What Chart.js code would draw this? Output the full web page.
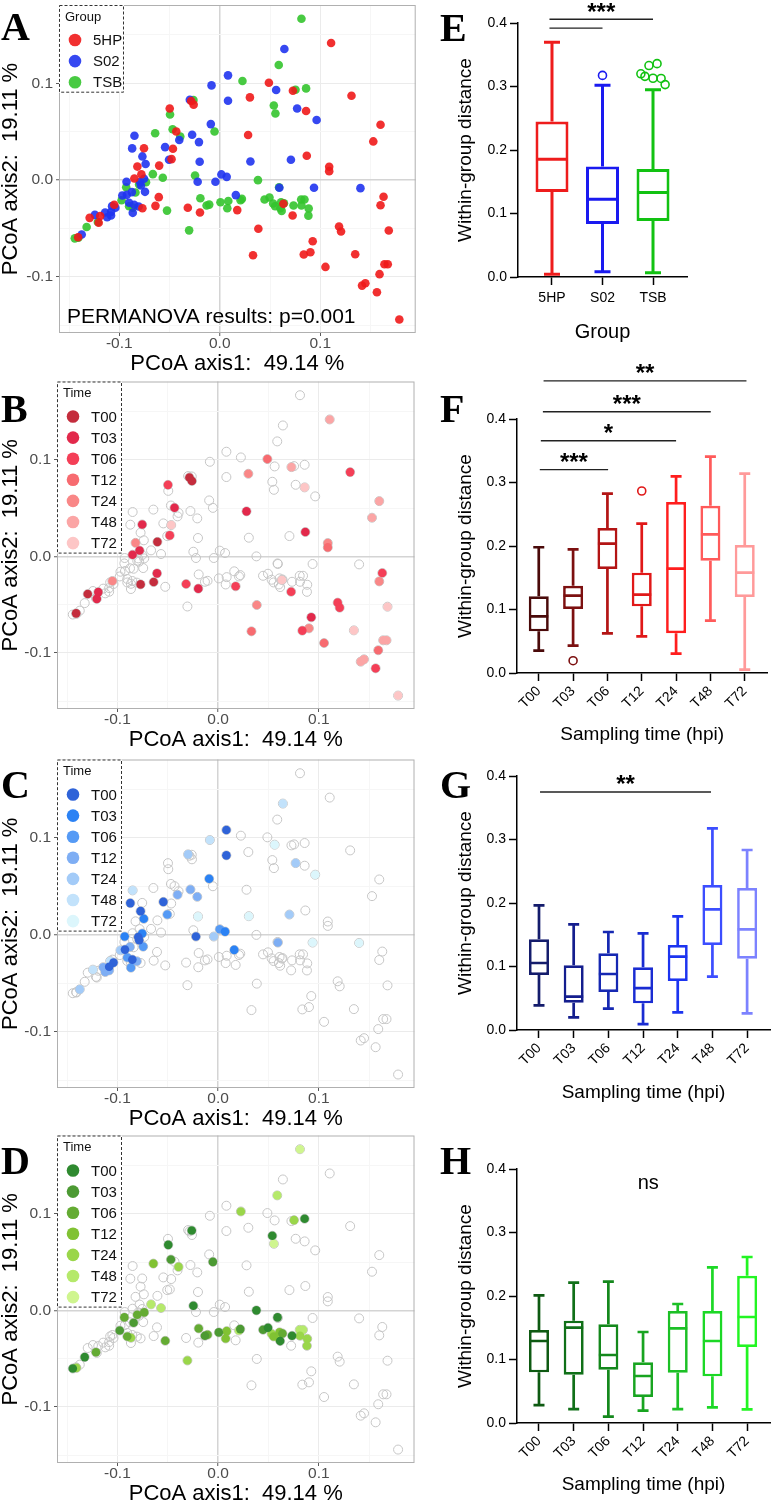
<!DOCTYPE html>
<html lang="en">
<head>
<meta charset="UTF-8">
<title>PCoA and within-group distance</title>
<script src="https://cdn.jsdelivr.net/npm/chart.js"></script>
<style>
    body {
        margin: 0;
        background: #fff;
        width: 773px;
        height: 1503px;
        position: relative;
        overflow: hidden;
    }
    canvas { position: absolute; }
    .tag {
        position: absolute;
        z-index: 2;
        font-family: "Liberation Serif", "Times New Roman", serif;
        font-weight: bold;
        font-size: 40px;
        line-height: 40px;
    }
</style>
</head>
<body>
<canvas id="pA" width="420" height="378" style="left:0;top:0"></canvas>
<canvas id="pB" width="420" height="378" style="left:0;top:376px"></canvas>
<canvas id="pC" width="420" height="379" style="left:0;top:754px"></canvas>
<canvas id="pD" width="420" height="378" style="left:0;top:1130px"></canvas>
<canvas id="pE" width="353" height="345" style="left:420px;top:0"></canvas>
<canvas id="pF" width="353" height="405" style="left:420px;top:345px"></canvas>
<canvas id="pG" width="353" height="358" style="left:420px;top:750px"></canvas>
<canvas id="pH" width="353" height="395" style="left:420px;top:1108px"></canvas>

<div class="tag" style="left:1px;top:7px">A</div>
<div class="tag" style="left:1px;top:389px">B</div>
<div class="tag" style="left:1px;top:765px">C</div>
<div class="tag" style="left:1px;top:1141px">D</div>
<div class="tag" style="left:440px;top:8px">E</div>
<div class="tag" style="left:440px;top:389px">F</div>
<div class="tag" style="left:440px;top:765px">G</div>
<div class="tag" style="left:440px;top:1141px">H</div>

<script>
    // ---- data ----
    const groups = ['5HP', 'S02', 'TSB'];
    const times = ['T00', 'T03', 'T06', 'T12', 'T24', 'T48', 'T72'];

    // PCoA scores: [axis1, axis2, time index]
    const pts5HP = [
        [-0.141, -0.059, 0], [-0.1295, -0.039, 0], [-0.119, -0.037, 1], [-0.1205, -0.044, 1],
        [-0.105, -0.0255, 4], [-0.085, 0.0017, 1], [-0.082, 0.014, 4], [-0.078, 0.006, 1],
        [-0.0754, 0.033, 1], [-0.077, -0.029, 0], [-0.064, -0.0266, 0], [-0.0607, -0.0176, 1],
        [-0.0603, 0.015, 0], [-0.0498, 0.074, 2], [-0.048, 0.0217, 2], [-0.0466, 0.0324, 6],
        [-0.0433, 0.0503, 1], [-0.0285, 0.0817, 0], [-0.026, 0.078, 0], [-0.0318, -0.0286, 2],
        [-0.0197, -0.0334, 1], [0.0174, -0.031, 2], [0.0282, 0.0466, 1], [0.030, 0.0855, 4],
        [0.0384, -0.0503, 4], [0.0331, -0.0776, 3], [0.0489, 0.1007, 3], [0.0725, -0.0366, 2],
        [0.0728, 0.0924, 5], [0.0859, 0.0714, 6], [0.0866, 0.0252, 1], [0.0925, -0.0631, 1],
        [0.0836, -0.0769, 2], [0.0902, -0.0745, 4], [0.0633, -0.0245, 6], [0.1052, -0.0897, 3],
        [0.1089, 0.0138, 4], [0.1089, 0.0093, 3], [0.1311, 0.0872, 2], [0.1187, -0.0479, 2],
        [0.1207, -0.0531, 2], [0.1348, -0.0766, 6], [0.1416, -0.109, 5], [0.1449, -0.1066, 5],
        [0.1528, 0.040, 5], [0.16, 0.0572, 5], [0.163, -0.0172, 2], [0.16, -0.0259, 4],
        [0.1682, -0.0521, 6], [0.1639, -0.0869, 5], [0.1672, -0.0869, 5], [0.159, -0.0972, 3],
        [0.1564, -0.1159, 2], [0.1787, -0.1441, 6], [0.1108, 0.1417, 5]
    ];
    const ptsS02 = [
        [0.0082, 0.1083, 0], [0.0082, 0.0821, 0], [-0.0082, 0.0979, 5], [-0.0298, 0.0831, 4],
        [-0.0089, 0.0579, 1], [-0.0275, 0.0469, 3], [-0.0207, 0.0393, 3], [-0.0403, 0.0414, 3],
        [-0.0544, 0.0341, 0], [-0.0505, 0.021, 2], [-0.02, 0.019, 6], [-0.022, -0.0017, 0],
        [-0.0043, -0.0017, 4], [0.0016, 0.0059, 2], [0.0069, 0.0034, 1], [0.016, -0.0155, 1],
        [-0.0849, 0.0459, 5], [-0.0872, 0.0328, 0], [-0.077, 0.0245, 0], [-0.0738, 0.0166, 1],
        [-0.0928, -0.0017, 1], [-0.0754, 0.0014, 1], [-0.0793, -0.0021, 0], [-0.0784, -0.0055, 0],
        [-0.0744, -0.0121, 2], [-0.0925, -0.0152, 0], [-0.097, -0.0159, 4], [-0.0875, -0.0124, 3],
        [-0.0902, -0.0234, 2], [-0.0852, -0.0255, 0], [-0.0807, -0.0272, 3], [-0.0866, -0.0338, 2],
        [-0.1039, -0.0286, 0], [-0.1082, -0.0328, 0], [-0.1072, -0.0269, 5], [-0.1141, -0.0334, 3],
        [-0.1121, -0.0383, 3], [-0.1082, -0.0366, 3], [-0.1243, -0.0359, 5], [-0.1374, -0.0562, 4],
        [0.0643, 0.1355, 5], [0.0561, 0.0931, 6], [0.077, 0.0741, 4], [0.0964, 0.0621, 6],
        [0.0708, 0.021, 4], [0.0305, 0.0193, 6], [0.0593, -0.0079, 3], [0.0938, -0.0079, 6],
        [0.14, -0.0083, 6]
    ];
    const ptsTSB = [
        [0.0813, 0.1668, 6], [0.0587, 0.119, 5], [0.0226, 0.1024, 4], [0.0754, 0.0934, 4],
        [0.0859, 0.0948, 0], [0.0538, 0.0772, 0], [0.0554, 0.0689, 6], [-0.0262, 0.0827, 0],
        [-0.0495, 0.0678, 0], [-0.0469, 0.0526, 1], [-0.0393, 0.045, 4], [-0.0643, 0.0484, 3],
        [-0.0052, 0.0502, 1], [-0.0246, 0.0048, 0], [0.038, 0.0, 0], [0.059, -0.0073, 0],
        [-0.0666, 0.0062, 5], [-0.0567, 0.0024, 5], [-0.0734, -0.0021, 2], [-0.0803, -0.0045, 2],
        [-0.0931, -0.0073, 2], [-0.0839, -0.0128, 1], [-0.0977, -0.0208, 1], [-0.0902, -0.027, 2],
        [-0.0866, -0.0284, 4], [-0.0525, -0.0315, 2], [-0.1213, -0.0433, 2], [-0.1325, -0.0484, 0],
        [-0.1443, -0.0602, 0], [-0.1407, -0.0595, 4], [-0.0305, -0.0519, 4], [-0.0193, -0.0187, 2],
        [-0.0131, -0.0263, 1], [-0.0105, -0.0253, 2], [0.0007, -0.0228, 1], [0.0085, -0.0215, 3],
        [0.0075, -0.0291, 3], [0.022, -0.0194, 1], [0.0207, -0.0208, 5], [0.0446, -0.0201, 1],
        [0.0495, -0.018, 0], [0.0531, -0.0242, 4], [0.0551, -0.027, 3], [0.061, -0.0228, 3],
        [0.0639, -0.0239, 2], [0.0616, -0.0318, 0], [0.0603, -0.0291, 4], [0.0734, -0.0263, 0],
        [0.081, -0.0201, 5], [0.0843, -0.0201, 5], [0.0813, -0.0263, 4], [0.0885, -0.0294, 4],
        [0.0882, -0.0367, 4]
    ];

    // within-group distance boxes: [min, q1, median, q3, max]
    const statsE = [
        [0.0042, 0.134, 0.1855, 0.245, 0.3695],
        [0.0084, 0.0836, 0.1225, 0.174, 0.302],
        [0.0068, 0.0883, 0.133, 0.17, 0.295]
    ];
    const outliersE = [[], [0.3175], [0.320, 0.316, 0.333, 0.313, 0.336, 0.3127, 0.303]];
    const statsF = [
        [0.0352, 0.0656, 0.0892, 0.1207, 0.198],
        [0.043, 0.1008, 0.1218, 0.1375, 0.1948],
        [0.0625, 0.1638, 0.2037, 0.2283, 0.2824],
        [0.0577, 0.105, 0.1234, 0.158, 0.2352],
        [0.0304, 0.0625, 0.1643, 0.2693, 0.3097],
        [0.0824, 0.1769, 0.2184, 0.2635, 0.3407],
        [0.0052, 0.1197, 0.158, 0.2016, 0.3139]
    ];
    const outliersF = [[], [0.0194], [], [0.2866], [], [], []];
    const statsG = [
        [0.0388, 0.0866, 0.1055, 0.1428, 0.1963],
        [0.020, 0.043, 0.0525, 0.1018, 0.1664],
        [0.0336, 0.0598, 0.0882, 0.1207, 0.1543],
        [0.0094, 0.042, 0.0661, 0.0987, 0.1522],
        [0.0278, 0.0772, 0.1155, 0.1339, 0.179],
        [0.084, 0.1339, 0.19, 0.2283, 0.3176],
        [0.0262, 0.1123, 0.1585, 0.2236, 0.2835]
    ];
    const statsH = [
        [0.0283, 0.0798, 0.1291, 0.1465, 0.201],
        [0.022, 0.0761, 0.1501, 0.1612, 0.221],
        [0.010, 0.084, 0.1071, 0.1554, 0.2226],
        [0.0194, 0.0409, 0.074, 0.0955, 0.1433],
        [0.022, 0.0793, 0.1491, 0.1764, 0.1874],
        [0.0247, 0.0735, 0.1291, 0.1764, 0.2451],
        [0.0215, 0.1197, 0.1669, 0.232, 0.2614]
    ];
    const noOutliers = [[], [], [], [], [], [], []];

    // comparison bars: [from, to, height, label]
    const sigE = [[0.95, 3, 0.406, '***'], [0.95, 2, 0.392, '']];
    const sigF = [[1.14, 7.05, 0.46, '**'], [1.12, 6.01, 0.4115, '***'], [1.06, 5, 0.3658, '*'], [1.03, 3.02, 0.3202, '***']];
    const sigG = [[1.03, 5.96, 0.3748, '**']];
    const sigH = [[1.3, 7, 0.356, 'ns']];

    // ---- colours ----
    const groupColors = ['rgba(240,26,26,0.9)', 'rgba(32,52,240,0.9)', 'rgba(52,196,46,0.9)'];
    const redTimes = ['#c42d3d', '#e2294b', '#f43f57', '#f76b70', '#f98787', '#fba5a5', '#fdc6c6'];
    const blueTimes = ['#2f63d8', '#2b82f4', '#559af5', '#7eaef4', '#a3cbf8', '#c2e2fb', '#dcf6fc'];
    const greenTimes = ['#2f8a30', '#4c9a33', '#64ab33', '#81c233', '#9ad64a', '#b5e96b', '#cff58f'];
    const colE = ['#ee1c1c', '#1a1af0', '#12c212'];
    const colF = ['#4a0a0a', '#7c1010', '#b31414', '#e01818', '#ff1e1e', '#ff5a5a', '#ff9a9a'];
    const colG = ['#141c6c', '#141e8e', '#1628b2', '#1a2cd2', '#1c34f0', '#3c4eff', '#7c82ff'];
    const colH = ['#0e5a12', '#107018', '#14881c', '#18a420', '#1cc026', '#1cd826', '#22f522'];

    Chart.defaults.font.family = '"Liberation Sans", Arial, sans-serif';

    const near = (v, step) => Math.abs(v / step - Math.round(v / step)) < 1e-6;
    const noPad = s => { s.paddingTop = 0; s.paddingBottom = 0; s.paddingLeft = 0; s.paddingRight = 0; };
    const keepTicks = step => s => { s.ticks = s.ticks.filter(t => near(t.value, step)); };

    // ---- PCoA panels ----
    const xLim = [-0.16, 0.195];
    const yLim = [-0.158, 0.181];

    function pcoaAxis(axis, size) {
        const isX = axis === 'x';
        return {
            type: 'linear',
            min: isX ? xLim[0] : yLim[0],
            max: isX ? xLim[1] : yLim[1],
            afterBuildTicks: keepTicks(0.05),
            afterFit: s => { if (isX) s.height = size; else s.width = size; noPad(s); },
            border: { display: false },
            grid: {
                color: c => Math.abs(c.tick.value) < 1e-9 ? '#d4d4d4' : near(c.tick.value, 0.1) ? '#ebebeb' : '#f6f6f6',
                lineWidth: c => Math.abs(c.tick.value) < 1e-9 ? 1.5 : 1,
                tickColor: c => near(c.tick.value, 0.1) ? '#5a5a5a' : 'rgba(0,0,0,0)',
                tickLength: 3,
                tickWidth: 1
            },
            ticks: {
                stepSize: 0.05,
                includeBounds: false,
                color: '#4d4d4d',
                padding: isX ? 0 : 3,
                font: { size: 15.5, lineHeight: 1 },
                callback: v => near(v, 0.1) ? v.toFixed(1) : ''
            },
            title: {
                display: true,
                text: isX ? 'PCoA axis1:  49.14 %' : 'PCoA axis2:  19.11 %',
                color: '#000',
                font: { size: 22, lineHeight: 1 },
                padding: isX ? { top: 0, bottom: 3 } : { top: 0, bottom: 0 }
            }
        };
    }

    function pcoaDecor(legendTitle, note) {
        return {
            id: 'pcoaDecor',
            afterDatasetsDraw(chart) {
                const { ctx, chartArea: a } = chart;
                ctx.save();
                ctx.strokeStyle = '#b0b0b0';
                ctx.lineWidth = 1;
                ctx.strokeRect(a.left + 0.5, a.top + 0.5, a.right - a.left - 1, a.bottom - a.top - 1);

                if (note) {
                    ctx.fillStyle = '#000';
                    ctx.font = '21px "Liberation Sans", Arial, sans-serif';
                    ctx.textBaseline = 'middle';
                    ctx.fillText(note, a.left + 8, a.bottom - 16);
                }

                const items = chart.data.datasets.filter(d => d.label);
                const rowH = 21.1;
                const w = 65;
                const h = 35 + (items.length - 1) * rowH + 10.5;
                ctx.fillStyle = '#fff';
                ctx.fillRect(a.left, a.top, w, h);
                ctx.setLineDash([3, 2]);
                ctx.strokeStyle = '#333';
                ctx.strokeRect(a.left + 0.5, a.top + 0.5, w - 1, h - 1);
                ctx.setLineDash([]);
                ctx.fillStyle = '#111';
                ctx.textBaseline = 'middle';
                ctx.font = '13px "Liberation Sans", Arial, sans-serif';
                ctx.fillText(legendTitle, a.left + 6, a.top + 12);
                ctx.font = '15px "Liberation Sans", Arial, sans-serif';
                items.forEach((d, i) => {
                    const cy = a.top + 35 + i * rowH;
                    ctx.beginPath();
                    ctx.arc(a.left + 16, cy, 6.3, 0, Math.PI * 2);
                    ctx.fillStyle = d.pointBackgroundColor;
                    ctx.fill();
                    ctx.fillStyle = '#111';
                    ctx.fillText(d.label, a.left + 34, cy + 1);
                });
                ctx.restore();
            }
        };
    }

    function pcoa(id, left, legendTitle, datasets, note) {
        new Chart(document.getElementById(id), {
            type: 'scatter',
            data: { datasets: datasets },
            options: {
                responsive: false,
                animation: false,
                events: [],
                layout: { padding: { top: 5, right: 2, left: 0, bottom: 0 } },
                plugins: { legend: { display: false }, tooltip: { enabled: false } },
                scales: { x: pcoaAxis('x', 45), y: pcoaAxis('y', left) }
            },
            plugins: [pcoaDecor(legendTitle, note)]
        });
    }

    const xy = p => ({ x: p[0], y: p[1] });
    const allPts = pts5HP.concat(ptsS02, ptsTSB).map(xy);

    function timeSets(pts, palette) {
        const sets = times.map((t, i) => ({
            label: t,
            data: pts.filter(p => p[2] === i).map(xy),
            pointRadius: 4.3,
            pointBorderWidth: 0,
            pointBackgroundColor: palette[i]
        }));
        sets.push({
            data: allPts,
            pointRadius: 4.5,
            pointBorderWidth: 1,
            pointBorderColor: '#c6c6c6',
            pointBackgroundColor: 'rgba(0,0,0,0)',
            order: 1
        });
        return sets;
    }

    const groupSets = [pts5HP, ptsS02, ptsTSB].map((pts, g) => ({
        label: groups[g],
        data: pts.map(xy),
        pointRadius: 4.3,
        pointBorderWidth: 0,
        pointBackgroundColor: groupColors[g]
    }));

    pcoa('pA', 59, 'Group', groupSets, 'PERMANOVA results: p=0.001');
    pcoa('pB', 57, 'Time', timeSets(pts5HP, redTimes));
    pcoa('pC', 57, 'Time', timeSets(ptsS02, blueTimes));
    pcoa('pD', 57, 'Time', timeSets(ptsTSB, greenTimes));

    // ---- box plot panels ----
    function boxExtras(stats, colors, sig, cap, lw) {
        return {
            id: 'boxExtras',
            afterDatasetsDraw(chart) {
                const { ctx, scales: { x, y } } = chart;
                const bars = chart.getDatasetMeta(0).data;
                ctx.save();
                ctx.lineWidth = lw;
                stats.forEach((s, i) => {
                    const cx = x.getPixelForValue(i + 1);
                    const [mn, q1, md, q3, mx] = s.map(v => y.getPixelForValue(v));
                    const half = bars[i].width / 2 - 0.5;
                    ctx.strokeStyle = colors[i];
                    ctx.beginPath();
                    ctx.moveTo(cx, q3); ctx.lineTo(cx, mx);
                    ctx.moveTo(cx, q1); ctx.lineTo(cx, mn);
                    ctx.moveTo(cx - cap / 2, mx); ctx.lineTo(cx + cap / 2, mx);
                    ctx.moveTo(cx - cap / 2, mn); ctx.lineTo(cx + cap / 2, mn);
                    ctx.moveTo(cx - half, md); ctx.lineTo(cx + half, md);
                    ctx.stroke();
                });

                ctx.strokeStyle = '#222';
                ctx.fillStyle = '#000';
                ctx.lineWidth = 1.4;
                ctx.textAlign = 'center';
                ctx.textBaseline = 'alphabetic';
                sig.forEach(([a, b, v, label]) => {
                    const py = y.getPixelForValue(v);
                    const x1 = x.getPixelForValue(a);
                    const x2 = x.getPixelForValue(b);
                    const cy = py - 13.5;
                    if (label === 'ns') {
                        ctx.font = '20px "Liberation Sans", Arial, sans-serif';
                        ctx.fillText(label, (x1 + x2) / 2, cy + 5.2);
                        return;
                    }
                    ctx.beginPath();
                    ctx.moveTo(x1, py); ctx.lineTo(x2, py);
                    ctx.stroke();
                    if (label) {
                        ctx.font = 'bold 24px "Liberation Sans", Arial, sans-serif';
                        ctx.fillText(label, (x1 + x2) / 2, cy + 0.58 * 24);
                    }
                });
                ctx.restore();
            }
        };
    }

    function boxPanel(id, cfg) {
        const outPts = [];
        const outCols = [];
        cfg.outliers.forEach((list, i) => {
            list.forEach((v, k) => {
                outPts.push({ x: i + 1 + (k - (list.length - 1) / 2) * cfg.dodge, y: v });
                outCols.push(cfg.colors[i]);
            });
        });

        new Chart(document.getElementById(id), {
            type: 'bar',
            data: {
                datasets: [
                    {
                        data: cfg.stats.map((s, i) => ({ x: i + 1, y: [s[1], s[3]] })),
                        backgroundColor: '#fff',
                        borderColor: cfg.colors,
                        borderWidth: cfg.lw,
                        borderSkipped: false,
                        inflateAmount: 0,
                        barThickness: cfg.box,
                        order: 0
                    },
                    {
                        type: 'scatter',
                        data: outPts,
                        pointRadius: 4,
                        pointBorderWidth: 1.6,
                        pointBorderColor: outCols,
                        pointBackgroundColor: 'rgba(0,0,0,0)',
                        order: 1
                    }
                ]
            },
            options: {
                responsive: false,
                animation: false,
                events: [],
                layout: { padding: { top: cfg.top, right: cfg.right, left: 0, bottom: 0 } },
                plugins: { legend: { display: false }, tooltip: { enabled: false } },
                scales: {
                    x: {
                        type: 'linear',
                        min: cfg.xMin,
                        max: cfg.xMax,
                        offset: false,
                        afterBuildTicks: s => { s.ticks = cfg.labels.map((_, i) => ({ value: i + 1 })); },
                        afterFit: s => { s.height = cfg.xHeight; noPad(s); },
                        border: { display: true, color: '#000', width: 1.5 },
                        grid: { drawOnChartArea: false, offset: false, tickLength: 8, tickColor: '#000', tickWidth: 1.5 },
                        ticks: {
                            autoSkip: false,
                            minRotation: cfg.rot,
                            maxRotation: cfg.rot,
                            padding: cfg.rot ? 3 : 6,
                            color: '#000',
                            font: { size: 14, lineHeight: 1 },
                            callback: v => cfg.labels[Math.round(v) - 1]
                        },
                        title: {
                            display: true,
                            text: cfg.xTitle,
                            color: '#000',
                            font: { size: cfg.xTitleSize, lineHeight: 1 },
                            padding: { top: 0, bottom: cfg.xTitlePad }
                        }
                    },
                    y: {
                        min: 0,
                        max: 0.4,
                        afterFit: s => { s.width = cfg.yWidth; noPad(s); },
                        border: { display: true, color: '#000', width: 1.5 },
                        grid: { drawOnChartArea: false, tickLength: 8, tickColor: '#000', tickWidth: 1.5 },
                        ticks: {
                            stepSize: 0.1,
                            padding: 3,
                            color: '#000',
                            font: { size: 14, lineHeight: 1 },
                            callback: v => v.toFixed(1)
                        },
                        title: {
                            display: true,
                            text: 'Within-group distance',
                            color: '#000',
                            font: { size: 19, lineHeight: 1 },
                            padding: { top: 36, bottom: 0 }
                        }
                    }
                }
            },
            plugins: [boxExtras(cfg.stats, cfg.colors, cfg.sig, cfg.cap, cfg.lw)]
        });
    }

    boxPanel('pE', {
        labels: groups, stats: statsE, outliers: outliersE, colors: colE, sig: sigE,
        xMin: 0.327, xMax: 3.673, top: 23, right: 86, yWidth: 98, xHeight: 68,
        rot: 0, xTitle: 'Group', xTitleSize: 20, xTitlePad: 3,
        box: 33, cap: 16, lw: 3, dodge: 0.08
    });
    boxPanel('pF', {
        labels: times, stats: statsF, outliers: outliersF, colors: colF, sig: sigF,
        xMin: 0.366, xMax: 7.66, top: 74, right: 3, yWidth: 97, xHeight: 77,
        rot: 45, xTitle: 'Sampling time (hpi)', xTitleSize: 19, xTitlePad: 5.5,
        box: 20, cap: 11, lw: 2.7, dodge: 0.1
    });
    boxPanel('pG', {
        labels: times, stats: statsG, outliers: noOutliers, colors: colG, sig: sigG,
        xMin: 0.366, xMax: 7.66, top: 26, right: 3, yWidth: 97, xHeight: 78,
        rot: 45, xTitle: 'Sampling time (hpi)', xTitleSize: 19, xTitlePad: 5.5,
        box: 20, cap: 11, lw: 2.7, dodge: 0.1
    });
    boxPanel('pH', {
        labels: times, stats: statsH, outliers: noOutliers, colors: colH, sig: sigH,
        xMin: 0.366, xMax: 7.66, top: 61, right: 3, yWidth: 97, xHeight: 80,
        rot: 45, xTitle: 'Sampling time (hpi)', xTitleSize: 19, xTitlePad: 8.5,
        box: 20, cap: 11, lw: 2.7, dodge: 0.1
    });
</script>
</body>
</html>
